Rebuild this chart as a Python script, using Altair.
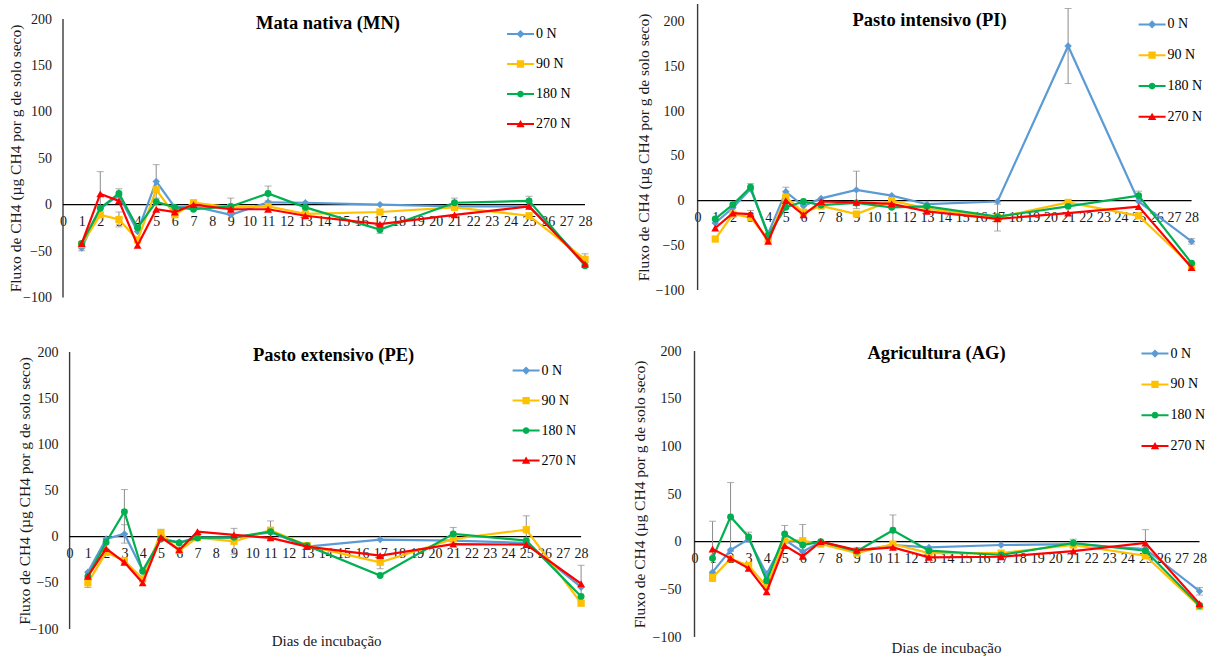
import altair as alt
import pandas as pd

# ---------------- data ----------------
dias = [1, 2, 3, 4, 5, 6, 7, 9, 11, 13, 17, 21, 25, 28]
series = ["0 N", "90 N", "180 N", "270 N"]
x_ticks = list(range(0, 29))
y_ticks = [-100, -50, 0, 50, 100, 150, 200]

titulos = ["Mata nativa (MN)", "Pasto intensivo (PI)", "Pasto extensivo (PE)", "Agricultura (AG)"]
y_titulo = "Fluxo de CH4 (µg CH4 por g de solo seco)"
x_titulo = "Dias de incubação"

# Mata nativa (MN)
mn_0 = [-46.7, -4, 10, -29, 25, -3, -2, -11, 2.5, 2, 0, -2, -2, -62]
mn_90 = [-43, -11, -16, -38, 16, -11, 2, -3, -2, -10, -8, -3, -12, -59]
mn_180 = [-42, -4, 12, -25, 3, -3, -5, -2, 12, -3, -27, 2, 4, -66]
mn_270 = [-42, 11.5, 4, -44, -5, -8, 0, -5, -5, -12, -21, -11, -2, -64]
mn_0_err = [3, 0, 0, 0, 18, 0, 0, 0, 0, 0, 0, 0, 0, 0]
mn_90_err = [0, 0, 8, 0, 0, 0, 0, 0, 0, 0, 0, 0, 0, 6]
mn_180_err = [0, 0, 5, 0, 0, 0, 0, 9, 8, 0, 4, 5, 5, 0]
mn_270_err = [0, 24, 0, 0, 0, 0, 0, 0, 0, 0, 0, 0, 0, 0]

# Pasto intensivo (PI)
pi_0 = [-25, -8, 13, -37, 10, -6, 2.5, 12, 5.6, -4, -1, 173, -1, -45.6]
pi_90 = [-43, -15, -19, -43, 4, -13, -6, -15, 0, -9, -19, -2, -17, -73]
pi_180 = [-20.5, -4.5, 15, -39, -7.5, -1, -5, -2.6, -7.5, -6.4, -18, -6.4, 5.6, -70]
pi_270 = [-30.6, -14, -15, -45.6, 0, -16, -1, -2, -3.7, -12, -20.5, -14, -6.7, -75]
pi_0_err = [0, 0, 0, 0, 5, 0, 0, 21, 0, 0, 0, 42, 0, 3]
pi_90_err = [0, 0, 0, 0, 0, 0, 0, 0, 0, 0, 15, 0, 0, 0]
pi_180_err = [0, 0, 4, 0, 0, 0, 0, 0, 0, 0, 0, 0, 5, 0]
pi_270_err = [0, 0, 4, 0, 0, 0, 0, 0, 0, 0, 0, 0, 0, 0]

# Pasto extensivo (PE)
pe_0 = [-38.5, -2.5, 3, -36.7, -2.5, -6, -1, -1, 4.7, -10.8, -3.2, -4.3, -6.8, -54.7]
pe_90 = [-50, -17, -26, -45.7, 4, -15, -1, -5, 7, -9.7, -27.7, -2.5, 7.6, -72]
pe_180 = [-43, -6, 27, -37.4, -2.5, -6.8, -1.4, -0.7, 5.4, -9.7, -42, 3, -4.3, -64.7]
pe_270 = [-43, -13, -27.7, -50, -0.7, -14.4, 5.4, 2, -1.4, -10.8, -20.5, -8, -8.6, -51]
pe_0_err = [0, 0, 10, 0, 0, 0, 0, 0, 0, 0, 0, 0, 0, 0]
pe_90_err = [5, 0, 0, 0, 4, 0, 0, 14, 10, 0, 7, 0, 15, 3]
pe_180_err = [0, 0, 24, 0, 0, 0, 0, 0, 0, 3, 0, 7, 0, 0]
pe_270_err = [0, 0, 0, 0, 0, 0, 0, 0, 0, 0, 0, 0, 0, 20]

# Agricultura (AG)
ag_0 = [-32, -8.8, 2.8, -34, 2, -10.5, 0, -9.5, -3.5, -6, -3.5, -2.5, -7.7, -52]
ag_90 = [-37.5, -18, -25, -47, 1, 1, -2.5, -12, -2.5, -12, -12, -3.5, -14.7, -68]
ag_180 = [-17.5, 26, 5, -41, 8, -3.5, 0, -10, 12, -9.5, -14, -1.4, -9.5, -67]
ag_270 = [-7.7, -17.5, -28, -52.5, -4.2, -15.4, 0, -8.8, -6, -16.5, -15.8, -10, -1.4, -65]
ag_0_err = [0, 0, 0, 0, 0, 0, 0, 0, 0, 0, 0, 0, 0, 4]
ag_90_err = [4, 0, 0, 0, 0, 17, 0, 0, 0, 0, 0, 0, 0, 3]
ag_180_err = [0, 36, 5, 0, 9, 0, 0, 4, 16, 0, 0, 4, 0, 0]
ag_270_err = [29, 0, 0, 0, 0, 0, 0, 0, 0, 0, 0, 0, 14, 0]

# ---------------- style ----------------
FONT = "Liberation Serif"
TXT = "#1a1a1a"
CINZA = "#8c8c8c"
cores = ["#5B9BD5", "#FFC000", "#00B050", "#FF0000"]
marcadores = ["diamond", "square", "circle", "triangle-up"]
tamanhos = [55, 52, 48, 62]
LINE = "M-1,-0.075L1,-0.075L1,0.075L-1,0.075Z"
leg_paths = [
    LINE + "M0,-0.3L0.3,0L0,0.3L-0.3,0Z",
    LINE + "M-0.27,-0.27L0.27,-0.27L0.27,0.27L-0.27,0.27Z",
    LINE + "M-0.25,0A0.25,0.25 0 1,1 0.25,0A0.25,0.25 0 1,1 -0.25,0Z",
    LINE + "M0,-0.3L0.31,0.24L-0.31,0.24Z",
]


def painel(titulo, valores, erros, ymax, Wd, Hd, x0, ext, tx, ty, lx, ly,
           lp, tp, xt=None, title_y=None, rp=9):
    """Wd: px from day 0 to day 28; Hd: px from -100 to ymax;
    x0: px between panel origin and day 0; ext: extra px above ymax."""
    linhas = []
    for s, v, e in zip(series, valores, erros):
        for d, a, b in zip(dias, v, e):
            linhas.append({"dia": d, "serie": s, "fluxo": a, "erro": b,
                           "inf": a - b, "sup": a + b})
    df = pd.DataFrame(linhas)

    W = Wd + x0
    H = Hd + ext
    xmin = -x0 * 28.0 / Wd
    ytop = ymax + ext * (ymax + 100.0) / Hd

    xaxis = alt.Axis(values=x_ticks, offset=-Hd * 100.0 / (ymax + 100), ticks=False,
                     grid=False, domain=False,
                     labelFont=FONT, labelFontSize=14, labelColor=TXT,
                     labelPadding=10, labelFlush=False, labelOverlap=False,
                     format="d")
    yargs = dict(values=y_ticks, ticks=False, grid=False, domain=False,
                 labelFont=FONT, labelFontSize=14, labelColor=TXT,
                 labelPadding=lp, title=y_titulo, titleFont=FONT,
                 titleFontSize=15.5, titleFontWeight="normal",
                 titleColor=TXT, titlePadding=tp)
    if title_y is not None:
        yargs["titleY"] = title_y
    yaxis = alt.Axis(**yargs)
    xsc = alt.Scale(domain=[xmin, 28], nice=False, zero=False)
    ysc = alt.Scale(domain=[-100, ytop], nice=False, zero=False)
    X = alt.X("dia:Q", scale=xsc, axis=xaxis, title=None)

    def Y(f):
        return alt.Y(f + ":Q", scale=ysc, axis=yaxis, title=y_titulo)

    um = alt.Chart(pd.DataFrame({"a": [0]}))
    camadas = [
        # eixo Y (linha) e linha do zero
        um.mark_rule(color="#3a3a3a", strokeWidth=1.4).encode(
            x=alt.XDatum(0, type="quantitative", scale=xsc, axis=xaxis, title=None),
            y=alt.YDatum(-100, type="quantitative", scale=ysc, axis=yaxis, title=y_titulo),
            y2=alt.Y2Datum(ymax)),
        um.mark_rule(color="#000000", strokeWidth=1.2).encode(
            x=alt.XDatum(0, type="quantitative", scale=xsc, axis=xaxis, title=None),
            x2=alt.X2Datum(28),
            y=alt.YDatum(0, type="quantitative", scale=ysc, axis=yaxis, title=y_titulo)),
    ]
    base = alt.Chart(df)
    eb = base.transform_filter("datum.erro > 0")
    camadas += [
        eb.mark_rule(color=CINZA, strokeWidth=1).encode(x=X, y=Y("inf"), y2="sup:Q"),
        eb.mark_tick(orient="horizontal", size=7, thickness=1, color=CINZA).encode(x=X, y=Y("inf")),
        eb.mark_tick(orient="horizontal", size=7, thickness=1, color=CINZA).encode(x=X, y=Y("sup")),
    ]
    for s, c, m, sz in zip(series, cores, marcadores, tamanhos):
        sub = base.transform_filter(alt.datum.serie == s)
        camadas.append(sub.mark_line(color=c, strokeWidth=2.2).encode(x=X, y=Y("fluxo")))
        camadas.append(sub.mark_point(shape=m, filled=True, size=sz, color=c,
                                      opacity=1).encode(x=X, y=Y("fluxo")))

    leg = alt.Legend(orient="none", legendX=lx + x0, legendY=ly + ext, padding=0,
                     symbolSize=729, symbolOpacity=1, symbolStrokeWidth=0,
                     labelFont=FONT, labelFontSize=14, labelColor="#000000",
                     labelOffset=2, rowPadding=rp)
    camadas.append(base.mark_point(filled=True, opacity=0).encode(
        x=X, y=Y("fluxo"),
        fill=alt.Fill("serie:N", scale=alt.Scale(domain=series, range=cores),
                      legend=leg, title=None),
        shape=alt.Shape("serie:N", scale=alt.Scale(domain=series, range=leg_paths),
                        legend=leg, title=None),
    ))

    tdf = pd.DataFrame({"t": [titulo]})
    camadas.append(alt.Chart(tdf).mark_text(font=FONT, fontSize=18.5, fontWeight="bold",
                                            color="#000000", baseline="middle").encode(
        x=alt.value(tx + x0), y=alt.value(ty + ext), text="t:N"))
    if xt is not None:
        xdf = pd.DataFrame({"t": [x_titulo]})
        camadas.append(alt.Chart(xdf).mark_text(font=FONT, fontSize=15, color=TXT,
                                                baseline="middle").encode(
            x=alt.value(xt[0] + x0), y=alt.value(xt[1] + ext), text="t:N"))
    return alt.layer(*camadas).properties(width=W, height=H)


p1 = painel(titulos[0], [mn_0, mn_90, mn_180, mn_270],
            [mn_0_err, mn_90_err, mn_180_err, mn_270_err],
            200, 522, 278.4, 0, 15, 265, 4.4, 444, 15 - 13.5, 11.6, -1.2,
            title_y=15 + 139)
p2 = painel(titulos[1], [pi_0, pi_90, pi_180, pi_270],
            [pi_0_err, pi_90_err, pi_180_err, pi_270_err],
            220, 494, 286, 3.1, 0, 232, 16, 441, 18.4 - 13.5 + 2, 10.5, 3.7, rp=9.8)
p3 = painel(titulos[2], [pe_0, pe_90, pe_180, pe_270],
            [pe_0_err, pe_90_err, pe_180_err, pe_270_err],
            200, 511.5, 277, 6.6, 0, 264, 3, 443, 18.6 - 13.5, 5, -3.4, xt=(257, 289))
p4 = painel(titulos[3], [ag_0, ag_90, ag_180, ag_270],
            [ag_0_err, ag_90_err, ag_180_err, ag_270_err],
            200, 505, 286, 0, 0, 242, 2, 447, 2.6 - 13.5, 13.6, 4.5, xt=(252, 297),
            rp=9.8)

ind = dict(fill="independent", shape="independent")
esq = alt.vconcat(p1, p3, spacing=40).resolve_scale(**ind).resolve_legend(**ind)
dir_ = alt.vconcat(p2, p4, spacing=43).resolve_scale(**ind).resolve_legend(**ind)
chart = alt.hconcat(esq, dir_, spacing=40.5).resolve_scale(**ind).resolve_legend(**ind)
chart = chart.properties(
    padding={"left": 8, "top": 3, "right": 0, "bottom": 0},
    background="#ffffff",
).configure(font=FONT).configure_view(stroke=None).configure_axis(
    labelFont=FONT, titleFont=FONT).configure_legend(labelFont=FONT)

chart.save("out.html", embed_options={"renderer": "svg", "actions": False})
